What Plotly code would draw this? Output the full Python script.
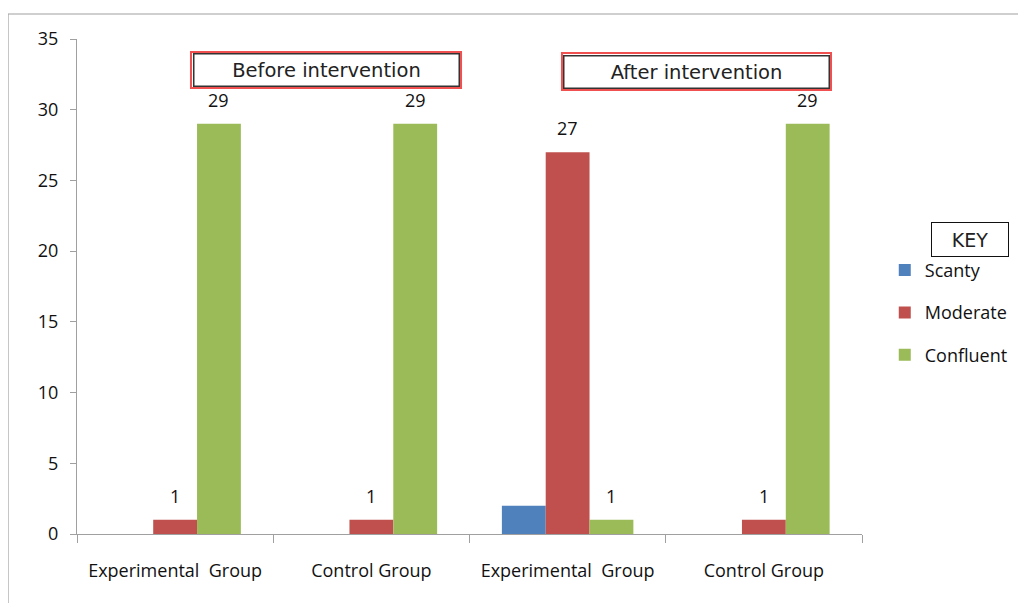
import plotly.graph_objects as go

groups = ["Experimental  Group", "Control Group", "Experimental  Group", "Control Group"]
series = ["Scanty", "Moderate", "Confluent"]
scanty = [0, 0, 2, 0]
moderate = [1, 1, 27, 1]
confluent = [29, 29, 1, 29]
labels_scanty = ["", "", "", ""]
labels_moderate = ["1", "1", "27", "1"]
labels_confluent = ["29", "29", "1", "29"]
colors = ["#4F81BD", "#C0504D", "#9BBB59"]
y_ticks = [0, 5, 10, 15, 20, 25, 30, 35]

FONT = "Open Sans, Lato, sans-serif"
BOXFONT = "DejaVu Sans, sans-serif"
BARGAP = 0.33

xs = list(range(len(groups)))
values = [scanty, moderate, confluent]
labels = [labels_scanty, labels_moderate, labels_confluent]

fig = go.Figure()
for i, (name, vals, col) in enumerate(zip(series, values, colors)):
    fig.add_trace(go.Bar(x=xs, y=vals, name=name, marker=dict(color=col, line=dict(width=0)),
                         legendgroup=name))

bw = (1 - BARGAP) / 3
annos = []
for i, labs in enumerate(labels):
    for j, t in enumerate(labs):
        if t:
            annos.append(dict(x=xs[j] + (i - 1) * bw, y=values[i][j], text=t, showarrow=False,
                              xanchor="center", yanchor="bottom", yshift=10,
                              font=dict(size=18, color="#111", family=FONT)))

# section boxes
annos.append(dict(xref="paper", yref="paper", x=0.3172, y=0.9374, text="Before intervention",
                  xanchor="center", yanchor="middle",
                  showarrow=False, font=dict(size=19.5, color="#222", family=BOXFONT),
                  bordercolor="#333", borderwidth=1.5, borderpad=1, width=262, height=29,
                  bgcolor="white"))
annos.append(dict(xref="paper", yref="paper", x=0.7892, y=0.9343, text="After intervention",
                  xanchor="center", yanchor="middle",
                  showarrow=False, font=dict(size=19.5, color="#222", family=BOXFONT),
                  bordercolor="#333", borderwidth=1.5, borderpad=1, width=262, height=29,
                  bgcolor="white"))
annos.append(dict(xref="paper", yref="paper", x=1.1376, y=0.594, text="KEY",
                  xanchor="center", yanchor="middle",
                  showarrow=False, font=dict(size=19, color="#222", family=BOXFONT),
                  bordercolor="#111", borderwidth=1, borderpad=1, width=74, height=31,
                  bgcolor="white"))

shapes = [
    dict(type="rect", xref="paper", yref="paper", x0=-0.0879, x1=1.25, y0=-0.2, y1=1.0505,
         line=dict(color="#a0a0a0", width=1.2), layer="below"),
    dict(type="rect", xref="paper", yref="paper", x0=0.1452, x1=0.4892, y0=0.901, y1=0.9737,
         line=dict(color="#f05050", width=2)),
    dict(type="rect", xref="paper", yref="paper", x0=0.6178, x1=0.9605, y0=0.897, y1=0.9717,
         line=dict(color="#f05050", width=2)),
]

fig.update_layout(
    width=1018, height=595,
    margin=dict(l=69, r=164, t=31, b=69),
    paper_bgcolor="white", plot_bgcolor="white",
    barmode="group", bargap=BARGAP, bargroupgap=0,
    font=dict(family=FONT, size=18, color="#111"),
    showlegend=True,
    legend=dict(x=1.029, y=0.570, xanchor="left", yanchor="top", tracegroupgap=16,
                font=dict(size=18, family=FONT, color="#111"), bgcolor="rgba(0,0,0,0)",
                traceorder="grouped"),
    annotations=annos,
    shapes=shapes,
)
fig.update_xaxes(range=[-0.5, 3.5], tickvals=xs, ticktext=groups, ticks="", showline=True,
                 linecolor="#a0a0a0", linewidth=1.2, showgrid=False, zeroline=False,
                 ticklabelstandoff=20,
                 tickfont=dict(size=18, family=FONT, color="#111"),
                 minor=dict(tickvals=[-0.5, 0.5, 1.5, 2.5, 3.5], ticks="outside", ticklen=8,
                            tickcolor="#a0a0a0", tickwidth=1.2, showgrid=False))
fig.update_yaxes(range=[0, 35], tickvals=y_ticks, ticks="outside", ticklen=6, tickcolor="#a0a0a0",
                 showline=True, linecolor="#a0a0a0", linewidth=1.2, showgrid=False, zeroline=False,
                 ticklabelstandoff=8,
                 tickfont=dict(size=18, family=FONT, color="#111"))

fig.write_html("out.html")
